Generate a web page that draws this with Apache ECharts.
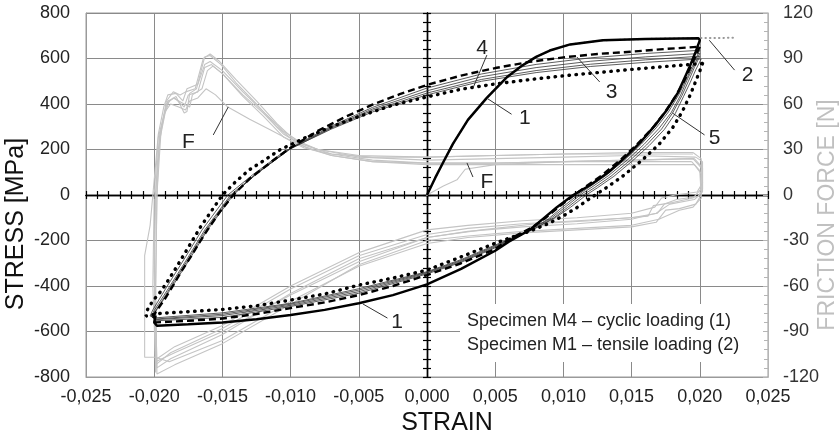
<!DOCTYPE html>
<html><head><meta charset="utf-8">
<script src="https://cdn.jsdelivr.net/npm/echarts@6/dist/echarts.min.js"></script>
<style>html,body{margin:0;padding:0;background:#fff}#c{width:840px;height:435px}</style>
</head><body><div id="c"></div>
<script>
// ---- axis ranges / ticks ----
const strainRange = [-0.025, 0.025, 0.005];
const stressRange = [-800, 800, 200];
const forceRange = [-120, 120, 30];

// ---- stress-strain curves [strain, stress MPa] ----
const tensileM1 = [[0,0],[0.0006,75],[0.0012,145],[0.0019,225],[0.003,330],[0.0044,428],[0.0059,520],[0.007,570],[0.008,607],[0.009,635],[0.0105,662],[0.0129,680],[0.016,686],[0.020,690],[0.0227,691]];

const cycle1 = [[0,0],[0.0006,75],[0.0012,145],[0.0019,225],[0.003,330],[0.0044,428],[0.0059,520],[0.007,570],[0.008,607],[0.009,635],[0.0105,662],[0.0129,680],[0.016,686],[0.0199,689],
 [0.0200,680],[0.0197,630],[0.0193,570],[0.019,530],[0.0184,450],[0.0176,375],[0.0167,305],[0.0157,235],[0.0146,170],[0.0133,100],[0.012,45],[0.0106,-5],[0.0095,-55],[0.0085,-105],[0.0075,-155],[0.006,-205],[0.005,-245],[0.0025,-325],[0,-393],[-0.0025,-440],[-0.005,-476],[-0.0075,-505],[-0.010,-527],[-0.0125,-546],[-0.015,-560],[-0.0175,-568],[-0.0198,-575],[-0.0200,-560],[-0.0199,-530]];

const cycleDashed = [[0.0200,652],[0.0197,612],[0.0193,560],[0.0188,495],[0.0182,432],[0.0174,360],[0.0165,292],[0.0154,222],[0.0142,155],[0.0128,85],[0.0116,35],[0.0108,0],[0.0097,-50],[0.0087,-100],[0.0077,-143],[0.006,-195],[0.005,-238],[0.0025,-300],[0,-352],[-0.0025,-400],[-0.005,-440],[-0.0075,-472],[-0.010,-497],[-0.0125,-523],[-0.015,-543],[-0.0175,-553],[-0.0199,-560],
 [-0.0201,-545],[-0.0199,-515],[-0.0192,-455],[-0.0186,-396],[-0.018,-335],[-0.0173,-270],[-0.0167,-210],[-0.0161,-154],[-0.0152,-75],[-0.0142,0],[-0.013,72],[-0.012,118],[-0.011,165],[-0.010,208],[-0.008,282],[-0.006,343],[-0.004,397],[-0.002,443],[0,484],[0.0025,525],[0.005,558],[0.0075,585],[0.010,605],[0.0125,620],[0.015,630],[0.0175,642],[0.0200,652]];

const cycleDotted = [[0.0202,578],[0.0200,545],[0.0197,500],[0.0193,440],[0.0187,365],[0.018,295],[0.0170,222],[0.0158,155],[0.0144,85],[0.0131,30],[0.0122,-5],[0.011,-55],[0.0099,-95],[0.0088,-128],[0.0075,-160],[0.006,-190],[0.005,-212],[0.0025,-272],[0,-330],[-0.0025,-365],[-0.005,-396],[-0.0075,-435],[-0.010,-462],[-0.0125,-487],[-0.015,-503],[-0.0175,-513],[-0.0195,-520],[-0.0206,-532],
 [-0.0205,-505],[-0.0201,-465],[-0.0196,-430],[-0.0192,-396],[-0.0185,-330],[-0.0178,-260],[-0.0172,-200],[-0.0166,-140],[-0.0158,-70],[-0.015,0],[-0.014,60],[-0.013,112],[-0.012,150],[-0.0108,198],[-0.009,250],[-0.007,300],[-0.005,345],[-0.0025,395],[0,431],[0.0025,465],[0.005,488],[0.0075,507],[0.010,524],[0.0125,538],[0.015,552],[0.0175,565],[0.0202,578]];

const cycleThinA = [[0.0200,636],[0.0196,585],[0.0191,520],[0.0185,445],[0.0177,365],[0.0168,295],[0.0157,223],[0.0145,155],[0.0131,85],[0.0119,35],[0.0111,2],[0.0099,-55],[0.0089,-105],[0.0077,-148],[0.005,-232],[0.0025,-296],[0,-347],[-0.005,-432],[-0.010,-490],[-0.015,-538],[-0.0199,-553],[-0.0201,-540],[-0.0199,-512],[-0.0186,-396],[-0.0173,-272],[-0.0161,-154],[-0.0142,0],[-0.0125,96],[-0.010,207],[-0.007,303],[-0.004,385],[0,470],[0.004,532],[0.008,574],[0.012,603],[0.016,622],[0.0200,636]];
const cycleThinB = [[0.0200,622],[0.0196,572],[0.0191,510],[0.0186,440],[0.0179,362],[0.017,292],[0.0159,222],[0.0147,155],[0.0133,85],[0.0121,35],[0.0113,3],[0.0101,-55],[0.0091,-102],[0.0078,-146],[0.005,-228],[0.0025,-292],[0,-343],[-0.005,-425],[-0.010,-485],[-0.015,-530],[-0.0199,-548],[-0.0201,-538],[-0.0199,-510],[-0.0187,-396],[-0.0174,-272],[-0.0162,-154],[-0.0143,0],[-0.0125,92],[-0.010,205],[-0.007,298],[-0.004,378],[0,458],[0.004,520],[0.008,560],[0.012,588],[0.016,607],[0.0200,622]];
const cycleThinC = [[0.0200,610],[0.0196,560],[0.0192,505],[0.0187,438],[0.018,360],[0.0172,290],[0.0161,220],[0.0149,153],[0.0135,83],[0.0123,33],[0.0115,2],[0.0103,-55],[0.0093,-100],[0.008,-144],[0.005,-224],[0.0025,-288],[0,-340],[-0.005,-418],[-0.010,-480],[-0.015,-524],[-0.0199,-545],[-0.0202,-535],[-0.02,-508],[-0.0188,-396],[-0.0175,-272],[-0.0163,-154],[-0.0144,0],[-0.0126,90],[-0.010,203],[-0.007,294],[-0.004,372],[0,448],[0.004,508],[0.008,547],[0.012,575],[0.016,594],[0.0200,610]];
const cycleThinD = [[0.0201,598],[0.0197,550],[0.0193,495],[0.0188,432],[0.0182,358],[0.0174,288],[0.0163,218],[0.0151,152],[0.0137,82],[0.0125,32],[0.0117,1],[0.0105,-55],[0.0094,-100],[0.0081,-142],[0.005,-220],[0.0025,-284],[0,-337],[-0.005,-412],[-0.010,-476],[-0.015,-518],[-0.0199,-540],[-0.0203,-532],[-0.0201,-505],[-0.019,-396],[-0.0177,-272],[-0.0165,-154],[-0.0146,0],[-0.0128,88],[-0.0105,190],[-0.007,290],[-0.004,365],[0,440],[0.004,500],[0.008,538],[0.012,565],[0.016,583],[0.0201,598]];

// ---- friction force curves [strain, force N] ----
const frictionA = [[0,0],[0.0012,6],[0.0022,10],[0.0028,17],[0.005,20],[0.010,22],[0.015,23],[0.0195,24],[0.0201,18],[0.0201,4],[0.0195,-2],[0.018,-5],[0.0166,-7],[0.0162,-14],[0.012,-17],[0.008,-19],[0.004,-23],[0,-28],[-0.005,-44],[-0.010,-66],[-0.015,-90],[-0.0185,-104],[-0.0199,-110],[-0.0201,-60],[-0.0200,0],[-0.0197,38],[-0.0193,52],[-0.019,62],[-0.0185,64],[-0.0178,58],[-0.0175,66],[-0.0168,68],[-0.0163,84],[-0.0158,86],[-0.015,80],[-0.0135,65],[-0.012,52],[-0.0105,38],[-0.009,31],[-0.007,27],[-0.004,25],[0,25],[0.005,26],[0.010,27],[0.015,27],[0.0195,27]];
const frictionB = [[0.0195,28],[0.0201,24],[0.0202,8],[0.0198,2],[0.0182,0],[0.0172,-2],[0.0167,-8],[0.015,-12],[0.011,-15],[0.007,-17],[0.003,-20],[0,-23],[-0.005,-38],[-0.010,-60],[-0.015,-86],[-0.0185,-100],[-0.0198,-108],[-0.0199,-117],[-0.0200,-40],[-0.0199,0],[-0.0197,30],[-0.0194,48],[-0.0191,62],[-0.0186,68],[-0.0181,66],[-0.0177,68],[-0.017,70],[-0.0164,90],[-0.0159,93],[-0.0152,88],[-0.014,76],[-0.0125,62],[-0.011,47],[-0.0098,37],[-0.008,30],[-0.005,26],[0,25],[0.005,26],[0.010,27],[0.015,28],[0.0195,28]];
const frictionC = [[0.0196,24],[0.0202,18],[0.0202,2],[0.0196,-3],[0.0178,-6],[0.0168,-12],[0.015,-16],[0.011,-19],[0.007,-21],[0.003,-24],[0,-28],[-0.005,-42],[-0.010,-65],[-0.015,-92],[-0.0188,-108],[-0.0198,-114],[-0.0199,-70],[-0.0198,0],[-0.0195,42],[-0.0191,60],[-0.0186,64],[-0.0178,60],[-0.0174,58],[-0.0172,66],[-0.0165,70],[-0.0161,82],[-0.0157,85],[-0.015,80],[-0.0135,66],[-0.012,54],[-0.0105,40],[-0.009,32],[-0.007,26],[-0.004,22],[0,21],[0.005,21],[0.010,22],[0.015,23],[0.0196,24]];
const frictionD = [[0.0194,22],[0.0200,16],[0.0201,0],[0.0197,-6],[0.0185,-9],[0.0175,-10],[0.0168,-18],[0.015,-21],[0.011,-23],[0.007,-25],[0.003,-28],[0,-32],[-0.005,-47],[-0.010,-70],[-0.015,-96],[-0.0189,-110],[-0.0199,-107],[-0.0207,-107],[-0.0207,-40],[-0.0203,-20],[-0.0200,10],[-0.0197,40],[-0.0193,58],[-0.019,66],[-0.0184,67],[-0.0179,62],[-0.0176,70],[-0.0168,73],[-0.0163,86],[-0.0159,88],[-0.015,82],[-0.0135,68],[-0.012,55],[-0.0105,42],[-0.009,33],[-0.007,27],[-0.004,23],[0,21],[0.005,21],[0.010,22],[0.015,22],[0.0194,22]];
const frictionE = [[0.0196,20],[0.0201,14],[0.0201,-2],[0.0195,-8],[0.0185,-10],[0.017,-16],[0.015,-20],[0.011,-22],[0.007,-24],[0.003,-27],[0,-30],[-0.005,-46],[-0.010,-72],[-0.015,-98],[-0.0185,-112],[-0.0198,-118],[-0.0199,-60],[-0.0198,0],[-0.0196,40],[-0.0192,55],[-0.0188,60],[-0.0182,58],[-0.0177,56],[-0.0174,62],[-0.0168,64],[-0.0162,70],[-0.0155,66],[-0.0146,58],[-0.013,50],[-0.0115,43],[-0.010,36],[-0.0085,30],[-0.007,26],[-0.004,22],[0,20],[0.005,20],[0.010,20],[0.015,20],[0.0196,20]];
const frictionF = [[0.0197,25],[0.0202,22],[0.0202,4],[0.0199,-1],[0.0183,-3],[0.0174,-6],[0.0169,-12],[0.015,-15],[0.011,-17],[0.007,-19],[0.003,-22],[0,-26],[-0.005,-40],[-0.010,-62],[-0.015,-88],[-0.0188,-104],[-0.0199,-112],[-0.02,-50],[-0.0199,0],[-0.0196,36],[-0.0192,54],[-0.0189,62],[-0.0184,65],[-0.0178,54],[-0.0176,55],[-0.0174,67],[-0.0169,70],[-0.0163,91],[-0.0159,92],[-0.0151,86],[-0.014,74],[-0.0125,60],[-0.011,45],[-0.0098,36],[-0.008,30],[-0.005,25],[0,23],[0.005,24],[0.010,25],[0.015,26],[0.0197,25]];

// ---- texts ----
const legendLines = ['Specimen M4 \u2013 cyclic loading (1)', 'Specimen M1 \u2013 tensile loading (2)'];
// annotation: [text, textPos, leaderFrom, leaderTo] in [strain, stress]
const annotations = [
  ['1', [0.00717, 338], [0.0062, 355], [0.0044, 425]],
  ['1', [-0.0022, -558], [-0.0029, -541], [-0.0047, -479]],
  ['2', [0.0235, 527], [0.02255, 549], [0.0207, 680]],
  ['3', [0.01354, 453], [0.01266, 497], [0.01098, 607]],
  ['4', [0.00403, 646], [0.00439, 615], [0.00337, 470]],
  ['5', [0.02108, 251], [0.02035, 264], [0.0180, 360]],
  ['F', [-0.0175, 233], [-0.01567, 264], [-0.01457, 387]],
  ['F', [0.0044, 57], [0.00337, 79], [0.00293, 141]]
];

const FONT = 'Liberation Sans, Arial, sans-serif';
const chart = echarts.init(document.getElementById('c'), null, {renderer: 'canvas'});

function fmtStrain(v) {
  if (Math.abs(v) < 1e-9) return '0,000';
  return v.toFixed(3).replace('.', ',');
}

const frictionSeries = [frictionA, frictionB, frictionC, frictionD, frictionE, frictionF].map(d => ({
  type: 'line', data: d, xAxisIndex: 0, yAxisIndex: 1, symbol: 'none', silent: true, z: 2,
  lineStyle: {color: '#c4c4c4', width: 1.1}
}));
const thinSeries = [cycleThinA, cycleThinB, cycleThinC, cycleThinD].map(d => ({
  type: 'line', data: d, xAxisIndex: 0, yAxisIndex: 0, symbol: 'none', silent: true, z: 4,
  lineStyle: {color: '#333', width: 0.8}
}));

const series = [].concat(frictionSeries, [
  {type: 'line', data: tensileM1, xAxisIndex: 0, yAxisIndex: 0, symbol: 'none', z: 3,
   lineStyle: {color: '#999', width: 2, type: [0.5, 4], cap: 'round'}}
], thinSeries, [
  {type: 'line', data: cycleDashed, xAxisIndex: 0, yAxisIndex: 0, symbol: 'none', z: 5,
   lineStyle: {color: '#000', width: 2.4, type: [7, 4]}},
  {type: 'line', data: cycleDotted, xAxisIndex: 0, yAxisIndex: 0, symbol: 'none', z: 5,
   lineStyle: {color: '#000', width: 3.4, type: [0.5, 6.5], cap: 'round'}},
  {type: 'line', data: cycle1, xAxisIndex: 0, yAxisIndex: 0, symbol: 'none', z: 6,
   lineStyle: {color: '#000', width: 2.5}}
]);

function crossX(inside) {
  return {type: 'value', min: strainRange[0], max: strainRange[1], interval: strainRange[2], position: 'bottom',
    axisLine: {show: true, onZero: true, onZeroAxisIndex: 0, lineStyle: {color: '#000', width: 1.4}},
    axisTick: {show: true, inside: inside, length: 4, lineStyle: {color: '#000', width: 1.2}},
    minorTick: {show: true, splitNumber: 6, length: 4, lineStyle: {color: '#000', width: 1.2}},
    axisLabel: {show: false}, splitLine: {show: false}, minorSplitLine: {show: false}};
}
function crossY(inside) {
  return {type: 'value', min: stressRange[0], max: stressRange[1], interval: stressRange[2], position: 'left',
    axisLine: {show: true, onZero: true, onZeroAxisIndex: 0, lineStyle: {color: '#000', width: 1.4}},
    axisTick: {show: true, inside: inside, length: 4, lineStyle: {color: '#000', width: 1.2}},
    minorTick: {show: true, splitNumber: 5, length: 4, lineStyle: {color: '#000', width: 1.2}},
    axisLabel: {show: false}, splitLine: {show: false}};
}

const option = {
  animation: false,
  backgroundColor: '#fff',
  textStyle: {fontFamily: FONT},
  grid: {left: 86, right: 72, top: 13, bottom: 58, show: true, borderColor: '#9a9a9a', borderWidth: 1, containLabel: false},
  xAxis: [
    {type: 'value', min: strainRange[0], max: strainRange[1], interval: strainRange[2], position: 'bottom',
     axisLine: {show: true, onZero: false, lineStyle: {color: '#9a9a9a'}},
     axisTick: {show: false},
     axisLabel: {formatter: fmtStrain, fontSize: 18, color: '#222', margin: 11, fontFamily: FONT},
     splitLine: {show: true, lineStyle: {color: '#8a8a8a', width: 1}}},
    crossX(true), crossX(false)
  ],
  yAxis: [
    {type: 'value', min: stressRange[0], max: stressRange[1], interval: stressRange[2], position: 'left',
     axisLine: {show: true, onZero: false, lineStyle: {color: '#9a9a9a'}},
     axisTick: {show: false},
     axisLabel: {fontSize: 18, color: '#222', margin: 16, fontFamily: FONT},
     splitLine: {show: true, lineStyle: {color: '#8a8a8a', width: 1}}},
    {type: 'value', min: forceRange[0], max: forceRange[1], interval: forceRange[2], position: 'right',
     axisLine: {show: true, onZero: false, lineStyle: {color: '#b5b5b5'}},
     axisTick: {show: true, inside: true, length: 5, lineStyle: {color: '#b5b5b5'}},
     minorTick: {show: true, splitNumber: 5, length: 4, lineStyle: {color: '#b5b5b5'}},
     axisLabel: {fontSize: 18, color: '#333', margin: 15, fontFamily: FONT},
     splitLine: {show: false}},
    crossY(true), crossY(false)
  ],
  series: series,
  graphic: [
    {type: 'text', x: 16, y: 224, rotation: Math.PI / 2, z: 100,
     style: {text: 'STRESS [MPa]', fontSize: 25, fill: '#111', fontFamily: FONT, align: 'center', verticalAlign: 'middle'}},
    {type: 'text', x: 828, y: 215, rotation: Math.PI / 2, z: 100,
     style: {text: 'FRICTION FORCE [N]', fontSize: 23, fill: '#c0c0c0', fontFamily: FONT, align: 'center', verticalAlign: 'middle'}},
    {type: 'text', x: 447, y: 423, z: 100,
     style: {text: 'STRAIN', fontSize: 25, fill: '#111', fontFamily: FONT, align: 'center', verticalAlign: 'middle'}},
    {type: 'rect', shape: {x: 460, y: 304, width: 303, height: 58}, z: 90, style: {fill: '#fff'}},
    {type: 'text', x: 467, y: 321, z: 100,
     style: {text: legendLines[0], fontSize: 18, fill: '#222', fontFamily: FONT, align: 'left', verticalAlign: 'middle'}},
    {type: 'text', x: 467, y: 345, z: 100,
     style: {text: legendLines[1], fontSize: 18, fill: '#222', fontFamily: FONT, align: 'left', verticalAlign: 'middle'}}
  ]
};
chart.setOption(option);

// annotations placed through the chart's own coordinate system
const annGraphics = [];
annotations.forEach(a => {
  const t = chart.convertToPixel({xAxisIndex: 0, yAxisIndex: 0}, a[1]);
  const p1 = chart.convertToPixel({xAxisIndex: 0, yAxisIndex: 0}, a[2]);
  const p2 = chart.convertToPixel({xAxisIndex: 0, yAxisIndex: 0}, a[3]);
  annGraphics.push({type: 'line', z: 80, shape: {x1: p1[0], y1: p1[1], x2: p2[0], y2: p2[1]}, style: {stroke: '#333', lineWidth: 1}});
  annGraphics.push({type: 'text', z: 80, x: t[0], y: t[1],
    style: {text: a[0], fontSize: 21, fill: '#222', fontFamily: FONT, align: 'center', verticalAlign: 'middle'}});
});
chart.setOption({graphic: option.graphic.concat(annGraphics)});
</script>
</body></html>
